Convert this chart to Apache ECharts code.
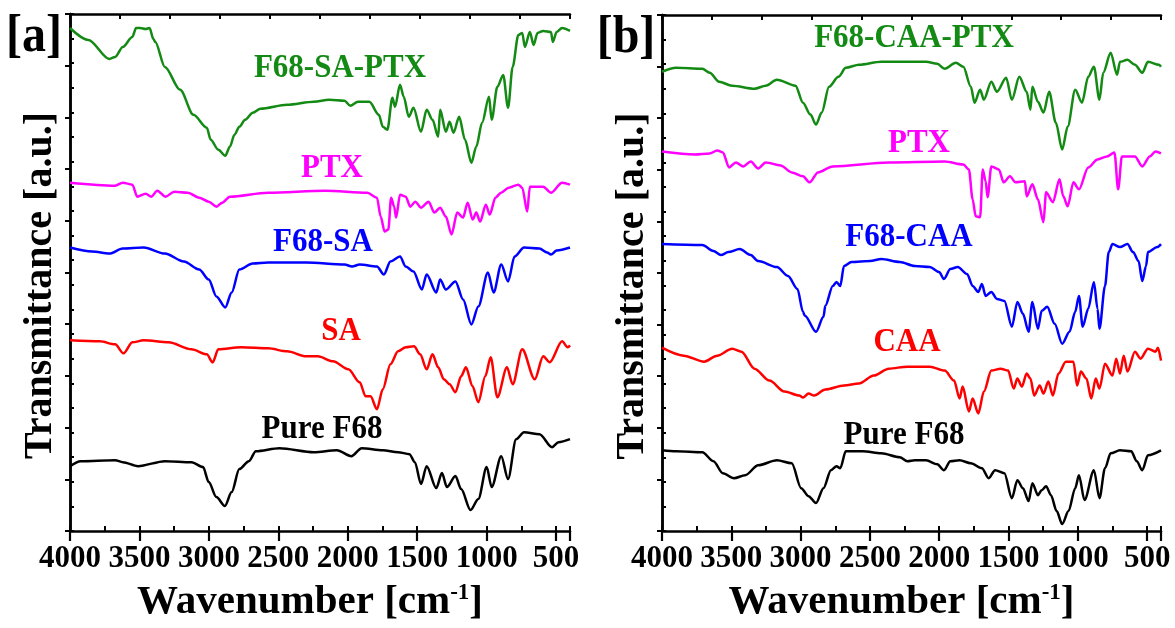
<!DOCTYPE html>
<html><head><meta charset="utf-8">
<script src="https://cdn.jsdelivr.net/npm/echarts@6/dist/echarts.min.js"></script>
<style>html,body{margin:0;padding:0;background:#fff}#c{width:1175px;height:628px}</style>
</head><body><div id="c"></div>
<script>
// ---- tick labels (bottom axis, left to right) ----
const xTickLabels = ['4000', '3500', '3000', '2500', '2000', '1500', '1000', '500'];
const panelTitles = ['[a]', '[b]'];
const labelsA = ['F68-SA-PTX', 'PTX', 'F68-SA', 'SA', 'Pure F68'];
const labelsB = ['F68-CAA-PTX', 'PTX', 'F68-CAA', 'CAA', 'Pure F68'];

// ---- panel a spectra: [wavenumber, transmittance (a.u., stacked)] ----
const a_F68_SA_PTX = [[4000,504],[3868,492],[3716,473],[3675,475],[3620,485],[3551,495],[3524,504],[3496,504],[3455,503],[3427,504],[3400,493],[3386,490],[3317,465],[3207,442],[3111,417],[3015,404],[2987,392],[2932,382],[2882,376],[2849,385],[2816,397],[2781,405],[2739,412],[2684,419],[2629,423],[2437,427],[2244,430],[2134,432],[2024,431],[1982,426],[1927,430],[1845,430],[1776,417],[1748,405],[1715,402],[1679,434],[1660,425],[1624,447],[1597,435],[1561,415],[1527,424],[1473,400],[1432,422],[1390,412],[1349,395],[1335,422],[1294,400],[1267,410],[1239,399],[1198,415],[1156,392],[1110,369],[1075,385],[1033,409],[983,435],[964,412],[923,445],[881,457],[846,424],[813,465],[772,497],[744,499],[725,485],[689,500],[662,487],[634,499],[593,501],[537,500],[524,490],[496,500],[457,504],[400,501]];
const a_PTX = [[4000,349],[3675,346],[3620,349],[3551,347],[3516,335],[3455,338],[3414,335],[3372,341],[3312,335],[3249,340],[3152,339],[3070,334],[3001,330],[2946,325],[2904,329],[2849,335],[2574,339],[2161,341],[1859,339],[1790,334],[1763,315],[1735,300],[1708,302],[1688,334],[1666,325],[1652,314],[1624,337],[1583,335],[1550,325],[1514,330],[1473,324],[1418,330],[1377,319],[1335,324],[1294,315],[1253,297],[1212,319],[1170,314],[1137,329],[1101,312],[1075,319],[1047,310],[1006,327],[978,317],[937,334],[896,339],[841,344],[772,347],[744,344],[708,320],[689,345],[593,345],[537,339],[457,349],[400,347]];
const a_F68_SA = [[4000,284],[3840,280],[3716,278],[3620,283],[3469,284],[3317,278],[3180,270],[3070,262],[3001,252],[2946,235],[2882,224],[2836,239],[2781,262],[2684,268],[2574,269],[2299,269],[2024,267],[1969,265],[1914,267],[1790,265],[1740,257],[1693,270],[1624,275],[1583,265],[1527,260],[1467,242],[1432,257],[1363,239],[1335,252],[1294,242],[1225,250],[1170,232],[1110,207],[1060,225],[991,259],[950,239],[895,267],[846,250],[799,275],[731,284],[620,283],[565,279],[537,277],[496,281],[400,284]];
const a_SA = [[4000,191],[3785,190],[3675,187],[3615,178],[3551,189],[3469,191],[3290,189],[3125,182],[3015,177],[2973,169],[2932,182],[2767,184],[2574,183],[2437,180],[2299,175],[2216,175],[2106,170],[1996,162],[1914,149],[1872,135],[1836,135],[1790,122],[1748,142],[1693,167],[1638,180],[1583,184],[1523,185],[1479,177],[1432,162],[1390,177],[1349,164],[1308,152],[1267,147],[1225,139],[1184,155],[1149,164],[1102,145],[1060,129],[1010,155],[971,174],[923,134],[854,164],[813,147],[744,182],[654,152],[593,175],[546,169],[457,190],[416,184],[400,186]];
const a_PureF68 = [[4000,65],[3923,70],[3675,71],[3620,69],[3510,65],[3317,70],[3125,69],[3042,64],[3001,49],[2946,34],[2885,25],[2836,39],[2781,62],[2712,70],[2662,80],[2492,83],[2244,79],[2079,81],[1974,75],[1900,83],[1748,81],[1638,79],[1556,77],[1517,69],[1473,47],[1432,65],[1363,43],[1322,58],[1286,44],[1225,55],[1184,42],[1116,21],[1060,32],[1000,64],[964,44],[895,75],[846,52],[788,92],[731,99],[620,97],[529,84],[483,89],[400,92]];

// ---- panel b spectra ----
const b_F68_CAA_PTX = [[4000,461],[3898,465],[3709,464],[3656,460],[3588,451],[3494,447],[3333,444],[3252,447],[3171,453],[3037,447],[2983,430],[2929,418],[2889,408],[2848,420],[2795,446],[2727,456],[2674,465],[2579,468],[2418,471],[2095,471],[2014,469],[1961,464],[1880,470],[1826,466],[1772,446],[1745,430],[1705,443],[1678,433],[1624,451],[1584,441],[1517,455],[1476,433],[1422,456],[1369,441],[1342,423],[1328,446],[1288,431],[1248,420],[1207,441],[1159,410],[1113,383],[1073,406],[1019,443],[970,430],[925,456],[884,466],[844,433],[817,460],[763,480],[717,458],[696,471],[642,473],[588,468],[535,460],[494,471],[414,468],[400,466]];
const b_PTX = [[4000,381],[3763,378],[3656,379],[3602,382],[3561,380],[3516,365],[3467,370],[3413,366],[3360,371],[3306,364],[3252,370],[3144,367],[3064,360],[2983,356],[2935,350],[2875,360],[2768,366],[2364,370],[1961,371],[1826,368],[1786,363],[1759,333],[1737,316],[1705,315],[1686,363],[1665,351],[1651,335],[1624,366],[1570,363],[1535,350],[1490,356],[1449,350],[1382,351],[1369,336],[1328,348],[1288,333],[1248,310],[1229,340],[1180,330],[1132,353],[1105,336],[1073,326],[1032,350],[992,343],[925,365],[858,373],[790,376],[736,380],[709,343],[682,376],[588,376],[535,366],[481,376],[440,381],[400,379]];
const b_F68_CAA = [[4000,288],[3709,287],[3629,281],[3575,277],[3521,280],[3440,283],[3360,277],[3306,271],[3171,265],[3091,256],[3023,243],[2983,220],[2969,216],[2889,200],[2835,215],[2822,226],[2768,246],[2741,250],[2714,246],[2687,266],[2633,270],[2499,271],[2418,273],[2284,270],[2176,266],[2068,265],[2001,260],[1966,253],[1920,263],[1866,265],[1799,258],[1759,246],[1718,240],[1692,248],[1665,236],[1624,240],[1584,233],[1530,231],[1476,205],[1436,230],[1396,218],[1355,200],[1328,230],[1288,203],[1261,221],[1221,225],[1167,208],[1113,188],[1060,200],[1019,220],[992,236],[965,205],[925,223],[884,250],[858,223],[844,203],[804,246],[777,280],[750,288],[696,285],[642,288],[602,280],[562,271],[535,251],[508,266],[494,280],[427,285],[400,288]];
const b_CAA = [[4000,184],[3844,176],[3696,170],[3602,176],[3494,183],[3427,180],[3333,163],[3225,151],[3117,140],[3010,136],[2983,134],[2943,138],[2902,136],[2822,142],[2687,146],[2579,148],[2472,156],[2364,163],[2230,165],[2068,165],[1961,161],[1893,151],[1853,133],[1831,145],[1786,120],[1759,133],[1718,118],[1678,140],[1624,161],[1557,163],[1503,161],[1463,143],[1436,153],[1404,145],[1369,158],[1342,153],[1315,136],[1275,146],[1248,138],[1213,150],[1180,136],[1140,158],[1087,170],[1032,170],[1005,146],[978,160],[938,153],[903,133],[871,153],[844,143],[804,168],[750,156],[723,173],[696,158],[669,176],[642,160],[588,180],[548,173],[494,183],[440,180],[422,184],[400,171]];
const b_PureF68 = [[4000,81],[3898,80],[3709,79],[3629,70],[3561,58],[3481,53],[3400,56],[3306,66],[3171,71],[3064,68],[2996,43],[2943,35],[2889,28],[2835,43],[2781,61],[2741,65],[2714,63],[2674,80],[2552,80],[2418,78],[2284,74],[2230,70],[2176,71],[2095,71],[2014,67],[1966,61],[1920,70],[1853,71],[1772,68],[1692,63],[1643,53],[1597,61],[1530,58],[1476,33],[1436,51],[1396,43],[1355,30],[1328,48],[1288,36],[1261,41],[1229,45],[1194,36],[1153,20],[1113,7],[1067,20],[1019,43],[992,56],[952,31],[884,61],[844,33],[804,63],[763,78],[696,81],[615,80],[575,70],[535,61],[494,76],[400,81]];

const colors = ['#138a13', '#ff00ff', '#0000ff', '#ff0000', '#000000'];
const FONT = '"Liberation Serif","Times New Roman",serif';

const panels = [
  {grid: {left: 70, top: 14, width: 500, height: 518}, data: [a_F68_SA_PTX, a_PTX, a_F68_SA, a_SA, a_PureF68], labels: labelsA,
   labelPos: [[340, 68], [332, 168], [323, 242], [341, 331], [322, 429]], titlePos: [34, 38]},
  {grid: {left: 662, top: 15, width: 499, height: 518}, data: [b_F68_CAA_PTX, b_PTX, b_F68_CAA, b_CAA, b_PureF68], labels: labelsB,
   labelPos: [[914, 38], [919, 143], [909, 237], [907, 342], [904, 435]], titlePos: [626, 39]}
];

const grids = [], xAxes = [], yAxes = [], series = [], elements = [];
const axisLine = {show: true, lineStyle: {color: '#000', width: 2.5}};
const YMAX = 518;
// distance from the left edge (4000 cm-1) of each panel, in cm-1
const SPAN = 3600;

panels.forEach((p, i) => {
  grids.push(Object.assign({containLabel: false}, p.grid));
  // data axis (wavenumber, reversed) - hidden, carries the series
  xAxes.push({type: 'value', gridIndex: i, position: 'bottom', min: 400, max: 4000, inverse: true, show: false});
  // bottom axis: major ticks + labels, measured from the 4000 cm-1 edge
  xAxes.push({
    type: 'value', gridIndex: i, position: 'bottom', min: 0, max: SPAN, interval: 500,
    axisLine: axisLine,
    axisTick: {show: true, inside: false, length: 10, lineStyle: {width: 2.2, color: '#000'}},
    axisLabel: {show: true, margin: 12, color: '#000', fontFamily: FONT, fontWeight: 'bold', fontSize: 31,
      showMinLabel: true, showMaxLabel: true, hideOverlap: false,
      formatter: v => (v % 500 === 0 ? xTickLabels[v / 500] : '')},
    splitLine: {show: false},
    name: '{a|Wavenumber [cm}{s|-1}{a|]}', nameLocation: 'middle', nameGap: 51,
    nameTextStyle: {padding: [0, 20, 0, 0], rich: {
      a: {fontFamily: FONT, fontWeight: 'bold', fontSize: 41, color: '#000'},
      s: {fontFamily: FONT, fontWeight: 'bold', fontSize: 23, color: '#000', verticalAlign: 'top'}
    }}
  });
  // bottom minor ticks (inside)
  xAxes.push({
    type: 'value', gridIndex: i, position: 'bottom', min: 0, max: SPAN, interval: 250,
    axisLine: {show: false},
    axisTick: {show: true, inside: true, length: 5, lineStyle: {width: 2, color: '#000'}},
    axisLabel: {show: false}, splitLine: {show: false}
  });
  // top axis (ten divisions)
  xAxes.push({
    type: 'value', gridIndex: i, position: 'top', min: 0, max: SPAN, interval: 360,
    axisLine: axisLine,
    axisTick: {show: true, inside: true, length: 5, lineStyle: {width: 2, color: '#000'}},
    axisLabel: {show: false}, splitLine: {show: false}
  });
  // left axis
  yAxes.push({
    type: 'value', gridIndex: i, position: 'left', min: 0, max: YMAX, interval: YMAX / 21,
    axisLine: axisLine,
    axisTick: {show: true, inside: true, length: 4, lineStyle: {width: 2, color: '#000'}},
    axisLabel: {show: false}, splitLine: {show: false},
    name: 'Transmittance [a.u.]', nameLocation: 'middle', nameGap: 9,
    nameTextStyle: {fontFamily: FONT, fontWeight: 'bold', fontSize: 40, color: '#000', padding: [0, 26, 0, 0]}
  });
  // right axis
  yAxes.push({
    type: 'value', gridIndex: i, position: 'right', min: 0, max: YMAX, interval: YMAX / 10,
    axisLine: axisLine,
    axisTick: {show: true, inside: true, length: 5, lineStyle: {width: 2, color: '#000'}},
    axisLabel: {show: false}, splitLine: {show: false}
  });
  p.data.forEach((d, k) => {
    series.push({
      type: 'line', name: p.labels[k] + ' ' + panelTitles[i], xAxisIndex: i * 4, yAxisIndex: i * 2,
      data: d, showSymbol: false, smooth: 0.3, smoothMonotone: 'x',
      lineStyle: {color: colors[k], width: 2.5}, itemStyle: {color: colors[k]},
      silent: true, animation: false, z: 5
    });
    elements.push({
      type: 'text', x: p.labelPos[k][0], y: p.labelPos[k][1], scaleY: 1.1,
      style: {text: p.labels[k], fill: colors[k], fontFamily: FONT, fontWeight: 'bold', fontSize: 31, align: 'center', verticalAlign: 'middle'}
    });
  });
  elements.push({
    type: 'text', x: p.titlePos[0], y: p.titlePos[1], scaleY: 1.08,
    style: {text: panelTitles[i], fill: '#000', fontFamily: FONT, fontWeight: 'bold', fontSize: 48, align: 'center', verticalAlign: 'middle'}
  });
});

const chart = echarts.init(document.getElementById('c'), null, {renderer: 'canvas'});
chart.setOption({
  animation: false,
  backgroundColor: '#fff',
  grid: grids, xAxis: xAxes, yAxis: yAxes, series: series,
  graphic: {elements: elements}
});
</script></body></html>
